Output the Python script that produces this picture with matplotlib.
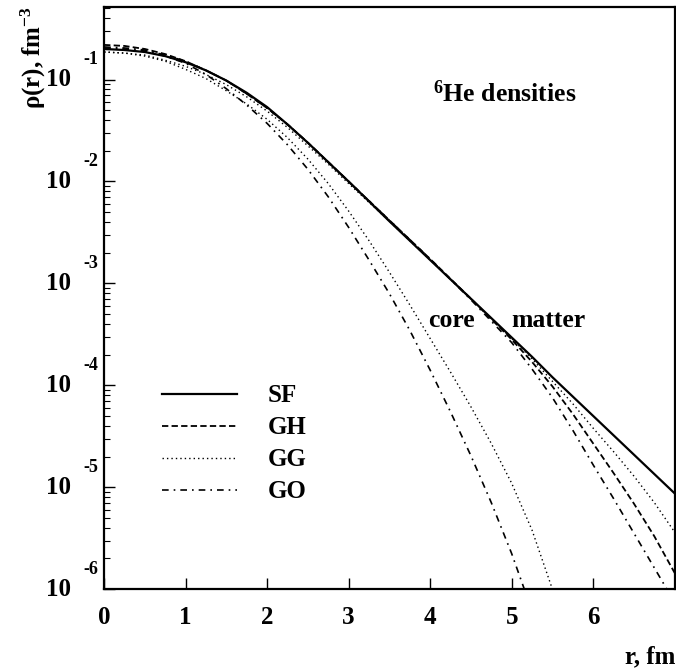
import matplotlib
matplotlib.use('Agg')
import numpy as np
import matplotlib.pyplot as plt
from matplotlib.ticker import LogLocator, NullFormatter, FixedLocator
from matplotlib.transforms import offset_copy

plt.rcParams['font.family'] = ['Liberation Serif', 'DejaVu Serif']
plt.rcParams['font.weight'] = 'bold'
plt.rcParams['mathtext.fontset'] = 'custom'
plt.rcParams['mathtext.rm'] = 'Liberation Serif:bold'
plt.rcParams['mathtext.it'] = 'Liberation Serif:bold'
plt.rcParams['mathtext.bf'] = 'Liberation Serif:bold'

# matter densities, log10(rho / fm^-3)
r_matter = [0, 0.25, 0.5, 0.75, 1, 1.25, 1.5, 1.75, 2, 2.25, 2.5, 2.75, 3, 3.5, 4, 4.5,
            5, 5.25, 5.5, 5.75, 6, 6.25, 6.5, 6.75, 7]
lg_sf = [-0.70, -0.71, -0.73, -0.77, -0.83, -0.91, -1.01, -1.13, -1.27, -1.44, -1.62, -1.81, -2.00,
         -2.39, -2.77, -3.15, -3.53, -3.72, -3.92, -4.11, -4.30, -4.49, -4.68, -4.87, -5.06]
lg_gh = [-0.66, -0.67, -0.70, -0.75, -0.82, -0.91, -1.01, -1.14, -1.28, -1.44, -1.62, -1.81, -2.00,
         -2.38, -2.76, -3.15, -3.55, -3.77, -4.01, -4.28, -4.57, -4.86, -5.16, -5.48, -5.84]
lg_gg = [-0.73, -0.74, -0.76, -0.81, -0.87, -0.95, -1.05, -1.17, -1.31, -1.47, -1.65, -1.83, -2.02,
         -2.39, -2.77, -3.15, -3.54, -3.74, -3.96, -4.18, -4.42, -4.65, -4.89, -5.15, -5.44]
lg_go = [-0.68, -0.69, -0.71, -0.76, -0.82, -0.91, -1.01, -1.14, -1.28, -1.44, -1.62, -1.81, -2.00,
         -2.38, -2.76, -3.16, -3.58, -3.84, -4.12, -4.44, -4.78, -5.11, -5.45, -5.79, -6.13]

# core densities (only GG and GO shown)
r_core_gg = [0, 0.25, 0.5, 0.75, 1, 1.25, 1.5, 1.75, 2, 2.25, 2.5, 2.75, 3, 3.25, 3.5, 3.75,
             4, 4.25, 4.5, 4.75, 5, 5.25, 5.5, 5.7]
lg_core_gg = [-0.73, -0.74, -0.77, -0.82, -0.90, -0.99, -1.11, -1.24, -1.39, -1.57, -1.78, -2.02,
              -2.29, -2.58, -2.89, -3.21, -3.54, -3.87, -4.21, -4.57, -4.96, -5.42, -6.00, -6.45]
r_core_go = [0, 0.25, 0.5, 0.75, 1, 1.25, 1.5, 1.75, 2, 2.25, 2.5, 2.75, 3, 3.25, 3.5, 3.75,
             4, 4.25, 4.5, 4.75, 5, 5.2]
lg_core_go = [-0.69, -0.70, -0.72, -0.77, -0.84, -0.95, -1.09, -1.25, -1.43, -1.64, -1.88, -2.15,
              -2.45, -2.77, -3.10, -3.46, -3.85, -4.26, -4.69, -5.15, -5.65, -6.10]

styles = {
    'SF': dict(ls='-', lw=1.6),
    'GH': dict(ls=(0, (3.5, 1.8)), lw=1.3),
    'GG': dict(ls=(0, (1, 2.2)), lw=1.0),
    'GO': dict(ls=(0, (4, 3, 1, 3)), lw=1.2),
}

fig = plt.figure(figsize=(6.76, 6.68), dpi=100)
ax = fig.add_axes([0.154, 0.118, 0.844, 0.8715])

r_m = np.array(r_matter)
for name, lg in [('SF', lg_sf), ('GH', lg_gh), ('GG', lg_gg), ('GO', lg_go)]:
    ax.plot(r_m, 10 ** np.array(lg), color='black', label=name, **styles[name])

ax.plot(r_core_gg, 10 ** np.array(lg_core_gg), color='black', **styles['GG'])
ax.plot(r_core_go, 10 ** np.array(lg_core_go), color='black', **styles['GO'])

ax.set_yscale('log')
ax.set_xlim(0, 7)
ax.set_ylim(1e-6, 0.515)

ax.xaxis.set_major_locator(FixedLocator([0, 1, 2, 3, 4, 5, 6]))
ax.yaxis.set_major_locator(LogLocator(base=10, numticks=10))
ax.yaxis.set_minor_locator(LogLocator(base=10, subs=np.arange(2, 10), numticks=20))
ax.yaxis.set_major_formatter(NullFormatter())
ax.yaxis.set_minor_formatter(NullFormatter())
ax.tick_params(axis='both', which='major', direction='in', length=8, width=1.0,
               top=False, right=False)
ax.tick_params(axis='y', which='minor', direction='in', length=4, width=0.8, right=False)
ax.tick_params(axis='x', labelsize=18, pad=12)
for s in ax.spines.values():
    s.set_linewidth(1.6)

# y tick labels drawn as "10" with a raised exponent
ytr = ax.get_yaxis_transform()
exp_tr = offset_copy(ytr, fig=fig, x=0, y=20, units='dots')
for k in range(1, 7):
    ax.text(-0.058, 10.0 ** -k, '10', transform=ytr, ha='right', va='center', fontsize=18)
    ax.text(-0.037, 10.0 ** -k, '-%d' % k, transform=exp_tr, ha='left', va='center', fontsize=13)

fig.text(33 / 676, 1 - 6 / 668, r'$\rho$(r), fm$^{-3}$', rotation=90, ha='center', va='top', fontsize=18)
fig.text(675 / 676, 1 - 657 / 668, 'r, fm', ha='right', va='center', fontsize=18)

ax.text(0.577, 0.852, r'$^{6}$He densities', transform=ax.transAxes, ha='left', va='center', fontsize=18.5)
ax.text(3.97, 10 ** -3.43, 'core', ha='left', va='baseline', fontsize=18.5)
ax.text(4.99, 10 ** -3.43, 'matter', ha='left', va='baseline', fontsize=18.5)

ax.legend(loc='upper left', bbox_to_anchor=(0.102, 0.352), frameon=False, fontsize=18,
          handlelength=3.0, handletextpad=1.2, labelspacing=0.36, borderpad=0, borderaxespad=0)

fig.savefig('out.png', dpi=100)
